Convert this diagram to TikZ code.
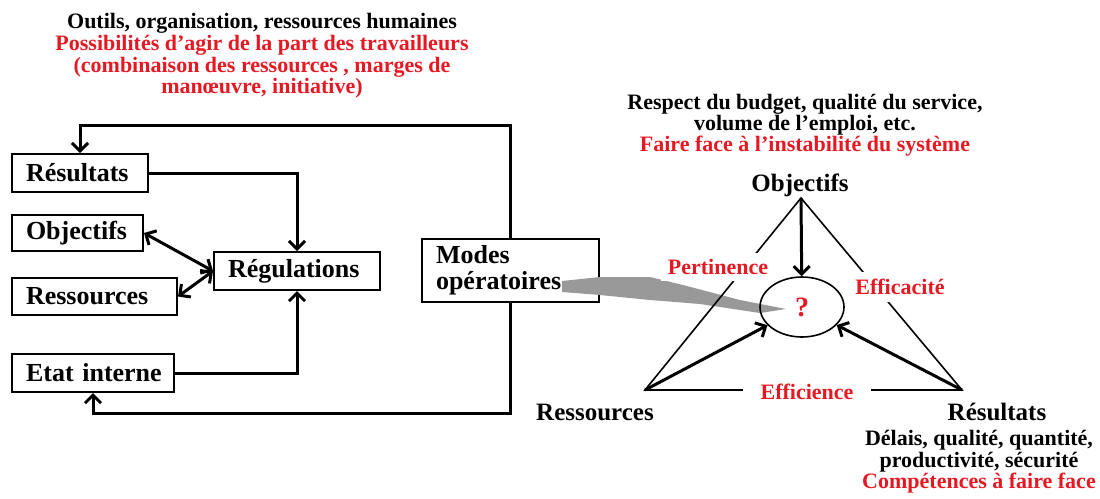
\documentclass[tikz,border=0pt]{standalone}
\usepackage{fontspec}
\setmainfont{Liberation Serif}
\usetikzlibrary{shapes, calc, positioning, arrows.meta}
\definecolor{rouge}{RGB}{230,25,35}

\begin{document}
\begin{tikzpicture}[x=0.5pt, y=-0.5pt, node distance = 1ex]
 \tikzstyle{bloc} = [draw, line width=1pt, rectangle, inner xsep=7pt, inner ysep=2pt, anchor=north west, align=left, font=\bfseries\fontsize{13}{13}\selectfont]
 \tikzstyle{fleche} = [line width=1.5pt, -{Straight Barb[length=4pt, width=8pt]}]
 \tikzstyle{dfleche} = [line width=1.5pt, {Straight Barb[length=4pt, width=8pt]}-{Straight Barb[length=4pt, width=8pt]}]
 \tikzstyle{cote} = [line width=0.8pt]
 \tikzstyle{note} = [align=center, font=\bfseries\fontsize{11}{10.8}\selectfont]
 \tikzstyle{titre} = [font=\bfseries\fontsize{12.5}{13}\selectfont]
 \tikzstyle{crit} = [fill=white, text=rouge, font=\bfseries\fontsize{11}{12}\selectfont]

 \useasboundingbox (0,0) rectangle (1100,499);

 % commentaires du haut
 \node [note] (outils) at (262,56) {Outils, organisation, ressources humaines\\
   \color{rouge}Possibilités d’agir de la part des travailleurs\\
   \color{rouge}(combinaison des ressources , marges de\\
   \color{rouge}manœuvre, initiative)};
 \node [note, font=\bfseries\fontsize{11}{10.5}\selectfont] (respect) at (805,125) {Respect du budget, qualité du service,\\
   volume de l’emploi, etc.\\ \color{rouge}Faire face à l’instabilité du système};
 \node [note] (delais) at (979,462) {Délais, qualité, quantité,\\ productivité, sécurité\\
   \color{rouge}Compétences à faire face};

 % boucle de gauche
 \node [bloc, text width=54pt, minimum height=19pt] (resultats) at (11,153) {Résultats};
 \node [bloc, text width=51.5pt, minimum height=18pt, below = 10.5pt of resultats.south west, anchor=north west] (objectifs) {Objectifs};
 \node [bloc, text width=68.5pt, minimum height=18.5pt, below = 12.5pt of objectifs.south west, anchor=north west] (ressources) {Ressources};
 \node [bloc, text width=67pt, minimum height=19pt, below = 18.5pt of ressources.south west, anchor=north west] (etat) {\mbox{Etat interne}};
 \node [bloc, text width=69pt, minimum height=19pt] (regulations) at (213,251) {Régulations};
 \node [bloc, text width=74.5pt, minimum height=31.5pt] (modes) at (421,238) {Modes\\ opératoires};
 \coordinate (haut) at (509,125);
 \coordinate (bas) at (509,413);

 \draw [fleche] (resultats.east) -| (regulations.north);
 \draw [fleche] (etat.east) -| (regulations.south);
 \draw [dfleche] (objectifs.east) -- (regulations.west);
 \draw [dfleche] (ressources.east) -- (regulations.west);
 \draw [fleche] (modes.north) |- (haut) -| (resultats.north);
 \draw [fleche] (modes.south) |- (bas) -| (etat.south);

 % triangle
 \node [titre] (objT) at (800,185) {Objectifs};
 \node [titre] (ressT) at (595,412) {Ressources};
 \node [titre] (resuT) at (997,412) {Résultats};
 \coordinate (sommet) at (801,198);
 \coordinate (gauche) at (645,390);
 \coordinate (droite) at (962,390);

 \fill [black!40] (562,281) -- (600,277) -- (650,277) -- (683,285) -- (740,300) -- (786,309)
   -- (760,313) -- (700,304) -- (650,300) -- (600,295) -- (562,292) -- cycle;

 \node [ellipse, draw, line width=0.8pt, minimum width=42pt, minimum height=30pt, text=rouge,
   font=\bfseries\fontsize{14}{15}\selectfont] (question) at (802,307) {?};

 \draw [cote] (sommet) -- (gauche) -- (droite) -- cycle;
 \draw [fleche] (sommet) -- (question);
 \draw [fleche] (gauche) -- (question);
 \draw [fleche] (droite) -- (question);

 \node [crit] (pertinence) at (718,267) {Pertinence};
 \node [crit] (efficacite) at (900,287) {Efficacité};
 \node [crit, inner xsep=9pt] (efficience) at (807,392) {Efficience};
\end{tikzpicture}
\end{document}
